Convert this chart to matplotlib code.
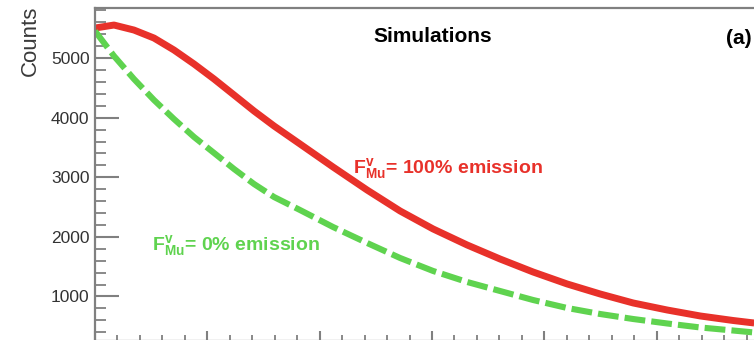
import matplotlib
matplotlib.use("Agg")
import matplotlib.pyplot as plt
from matplotlib.ticker import MultipleLocator, NullFormatter

plt.rcParams['font.family'] = ['Liberation Sans', 'DejaVu Sans']
plt.rcParams['mathtext.fontset'] = 'custom'
plt.rcParams['mathtext.rm'] = 'Liberation Sans'
plt.rcParams['mathtext.it'] = 'Liberation Sans:italic'
plt.rcParams['mathtext.bf'] = 'Liberation Sans:bold'

# (x in units of major ticks, no labels visible)
x_pts = [0.0, 0.169, 0.347, 0.525, 0.703, 0.882, 1.060, 1.238, 1.416,
         1.594, 1.825, 2.119, 2.422, 2.716, 3.010, 3.313, 3.606, 3.900,
         4.203, 4.497, 4.791, 5.094, 5.388, 5.681, 5.868]
counts_full = [5505, 5555, 5471, 5337, 5136, 4901, 4649, 4381, 4112, 3861,
               3559, 3173, 2787, 2435, 2133, 1864, 1629, 1411, 1210, 1042,
               891, 773, 673, 597, 555]
counts_none = [5455, 5035, 4649, 4297, 3978, 3676, 3408, 3139, 2887, 2669,
               2451, 2166, 1898, 1646, 1428, 1243, 1092, 941, 807, 706,
               622, 547, 480, 429, 396]

y_ticks = [1000, 2000, 3000, 4000, 5000]

W, H = 754, 340
fig = plt.figure(figsize=(W / 100, H / 100), dpi=100)
# axes run past the right and bottom edges, as in the cropped original
ax = fig.add_axes([95 / W, -1 / H, 674 / W, (341 - 8) / H])

red = '#e8312a'
green = '#5fd34f'
ax.plot(x_pts, counts_full, color=red, lw=5.0, solid_capstyle='butt',
        solid_joinstyle='round')
ax.plot(x_pts, counts_none, color=green, lw=4.4, dashes=(3.4, 1.0),
        dash_capstyle='butt', dash_joinstyle='round')

ax.set_xlim(0, 6)
ax.set_ylim(253, 5841)

ax.xaxis.set_major_locator(MultipleLocator(1))
ax.xaxis.set_minor_locator(MultipleLocator(0.2))
ax.xaxis.set_major_formatter(NullFormatter())
ax.set_yticks(y_ticks)
ax.yaxis.set_minor_locator(MultipleLocator(200))

grey = '#808080'
for s in ax.spines.values():
    s.set_color(grey)
    s.set_linewidth(1.6)
ax.spines['right'].set_visible(False)

ax.tick_params(axis='y', which='major', direction='in', length=17,
               width=1.5, color=grey, labelsize=12.5, labelcolor='#333333',
               pad=4)
ax.tick_params(axis='y', which='minor', direction='in', length=8,
               width=1.3, color=grey)
ax.tick_params(axis='x', which='major', direction='in', length=7,
               width=1.5, color=grey)
ax.tick_params(axis='x', which='minor', direction='in', length=4,
               width=1.3, color=grey)

fig.text(30 / W, 1 - 6 / H, 'Counts', rotation=90, ha='center', va='top',
         fontsize=16, color='#3a3a3a')
fig.text(433 / W, 1 - 36 / H, 'Simulations', ha='center', va='center',
         fontsize=15, fontweight='bold', color='black')
fig.text(752 / W, 1 - 38 / H, '(a)', ha='right', va='center',
         fontsize=15, fontweight='bold', color='black')

fig.text(353 / W, 1 - 173 / H,
         r'$\mathbf{F}_{\mathbf{Mu}}^{\mathbf{v}}$= 100% emission',
         ha='left', va='baseline', fontsize=14, fontweight='bold', color=red)
fig.text(152 / W, 1 - 250 / H,
         r'$\mathbf{F}_{\mathbf{Mu}}^{\mathbf{v}}$= 0% emission',
         ha='left', va='baseline', fontsize=14, fontweight='bold', color=green)

fig.savefig('out.png', dpi=100)
